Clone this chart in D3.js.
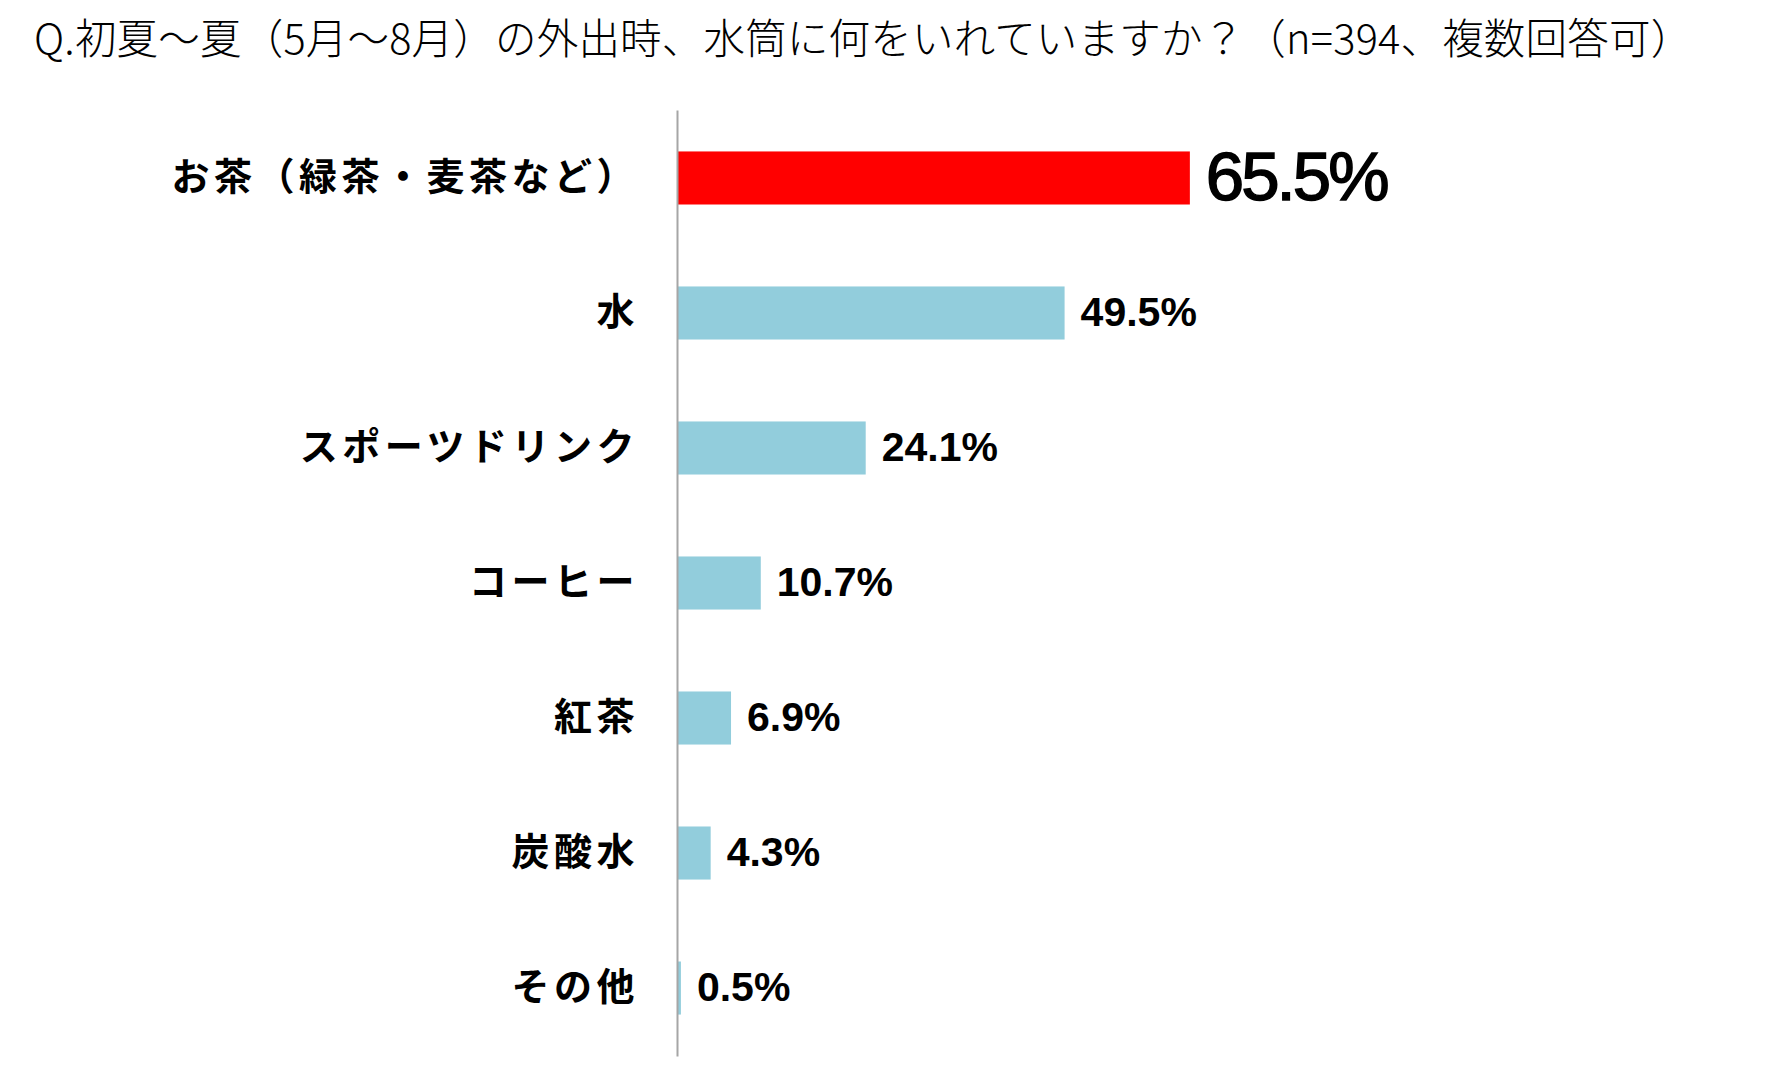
<!DOCTYPE html>
<html>
<head>
<meta charset="utf-8">
<script src="https://cdn.jsdelivr.net/npm/d3@7"></script>
<style>
  body { margin: 0; background: #fff; }
  svg { display: block; }
</style>
</head>
<body>
<div id="chart"></div>
<script>
// data
var titleText = "Q.初夏～夏（5月～8月）の外出時、水筒に何をいれていますか？（n=394、複数回答可）";
var categories = ["お茶（緑茶・麦茶など）", "水", "スポーツドリンク", "コーヒー", "紅茶", "炭酸水", "その他"];
var values = [65.5, 49.5, 24.1, 10.7, 6.9, 4.3, 0.5];
var topCategory = "お茶（緑茶・麦茶など）";

var width = 1780;
var height = 1083;

var data = categories.map(function(c, i) { return { name: c, value: values[i] }; });

var svg = d3.select("#chart")
    .append("svg")
    .attr("width", width)
    .attr("height", height);

// title
svg.append("text")
    .attr("x", 34)
    .attr("y", 54)
    .style("font-family", "'Noto Sans CJK JP', sans-serif")
    .style("font-weight", 300)
    .style("font-size", "41.5px")
    .style("letter-spacing", "0.2px")
    .style("fill", "#000")
    .text(titleText);

// scales
var x = d3.scaleLinear()
    .domain([0, 100])
    .range([677, 1460]);

var y = d3.scaleBand()
    .domain(categories)
    .range([110, 1056])
    .paddingInner(0.607)
    .paddingOuter(0.307);

// bars
svg.selectAll("rect.bar")
    .data(data)
    .enter()
    .append("rect")
    .attr("class", "bar")
    .attr("x", x(0))
    .attr("y", function(d) { return y(d.name); })
    .attr("width", function(d) { return x(d.value) - x(0); })
    .attr("height", y.bandwidth())
    .style("fill", function(d) { return d.name == topCategory ? "#ff0000" : "#92cddc"; });

// category axis
var yAxis = svg.append("g")
    .attr("transform", "translate(" + x(0) + ",0)")
    .call(d3.axisLeft(y).tickSize(0).tickSizeOuter(0).tickPadding(38));

yAxis.select(".domain")
    .style("stroke", "#a6a6a6")
    .style("stroke-width", 2);

yAxis.selectAll("text")
    .attr("dy", "-0.12em")
    .attr("dominant-baseline", "central")
    .style("font-family", "'Noto Sans CJK JP', sans-serif")
    .style("font-weight", 700)
    .style("font-size", "38px")
    .style("letter-spacing", "4.5px")
    .style("fill", "#000");

// value labels
svg.selectAll("text.val")
    .data(data)
    .enter()
    .append("text")
    .attr("class", "val")
    .attr("x", function(d) { return x(d.value) + 16; })
    .attr("y", function(d) { return y(d.name) + y.bandwidth() / 2; })
    .attr("dy", "0.32em")
    .style("font-family", "'Liberation Sans', Arial, sans-serif")
    .style("font-weight", function(d) { return d.name == topCategory ? 400 : 700; })
    .style("font-size", function(d) { return d.name == topCategory ? "69px" : "41px"; })
    .style("letter-spacing", function(d) { return d.name == topCategory ? "-3px" : "0px"; })
    .style("stroke", function(d) { return d.name == topCategory ? "#000" : "none"; })
    .style("stroke-width", 1.5)
    .style("fill", "#000")
    .text(function(d) { return d.value.toFixed(1) + "%"; });
</script>
</body>
</html>
